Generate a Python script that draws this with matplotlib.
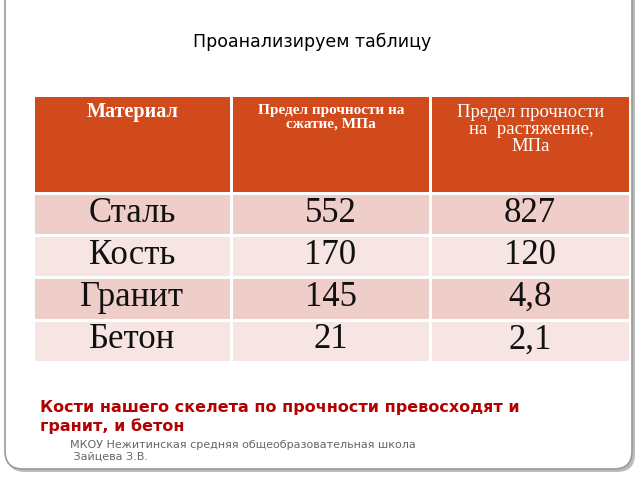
import matplotlib
matplotlib.use("Agg")
import matplotlib.pyplot as plt
from matplotlib.patches import Rectangle, FancyBboxPatch

title = "Проанализируем таблицу"
headers = ["Материал", "Предел прочности на\nсжатие, МПа", "Предел прочности\nна  растяжение,\nМПа"]
materials = ["Сталь", "Кость", "Гранит", "Бетон"]
compression = ["552", "170", "145", "21"]
tension = ["827", "120", "4,8", "2,1"]
conclusion = "Кости нашего скелета по прочности превосходят и\nгранит, и бетон"
footer = "МКОУ Нежитинская средняя общеобразовательная школа\n Зайцева З.В."

fig = plt.figure(figsize=(6.4, 4.8), dpi=100)
ax = fig.add_axes([0, 0, 1, 1])
ax.set_xlim(0, 640); ax.set_ylim(480, 0); ax.axis("off")

# slide frame with shadow
ax.add_patch(FancyBboxPatch((7, -20), 628, 492, boxstyle="round,pad=0,rounding_size=18",
                            fc="#bbbbbb", ec="none", zorder=0))
ax.add_patch(FancyBboxPatch((5, -22), 627, 491, boxstyle="round,pad=0,rounding_size=18",
                            fc="white", ec="#9a9a9a", lw=1.2, zorder=1))

ax.text(312, 42, title, ha="center", va="center", fontsize=12.5, family="DejaVu Sans", zorder=3)

xs = [33, 231, 430, 630]
hy0, hy1 = 97, 193
rows_y = [193, 235, 277, 320, 362]
gap = 1.5
for i in range(3):
    ax.add_patch(Rectangle((xs[i] + gap, hy0), xs[i+1] - xs[i] - 2 * gap, hy1 - hy0 - gap,
                           fc="#D04A1C", ec="none", zorder=2))
row_cols = ["#EFCDC9", "#F7E5E3"]
for r in range(len(materials)):
    for i in range(3):
        ax.add_patch(Rectangle((xs[i] + gap, rows_y[r] + gap), xs[i+1] - xs[i] - 2 * gap,
                               rows_y[r+1] - rows_y[r] - 2 * gap, fc=row_cols[r % 2], ec="none", zorder=2))

ax.text(133, 102, headers[0], ha="center", va="top", fontsize=14.5, fontweight="bold",
        color="white", family="Liberation Serif", zorder=3)
ax.text(331, 104, headers[1], ha="center", va="top", fontsize=11, fontweight="bold",
        color="white", family="Liberation Serif", linespacing=1.05, zorder=3)
ax.text(531, 104, headers[2], ha="center", va="top", fontsize=13.5, color="white",
        family="Liberation Serif", linespacing=1.0, zorder=3)

for r in range(len(materials)):
    yc = (rows_y[r] + rows_y[r+1]) / 2 - 1
    for i, col in enumerate([materials, compression, tension]):
        ax.text((xs[i] + xs[i+1]) / 2, yc, col[r], ha="center", va="center", fontsize=25,
                family="Liberation Serif", color="#111111", zorder=3)

ax.text(40, 417, conclusion, ha="left", va="center", fontsize=11.5, fontweight="bold",
        color="#B30000", family="DejaVu Sans", linespacing=1.3, zorder=3)
ax.text(70, 451, footer, ha="left", va="center", fontsize=8, color="#666666",
        family="DejaVu Sans", linespacing=1.25, zorder=3)

fig.savefig("out.png", dpi=100)
